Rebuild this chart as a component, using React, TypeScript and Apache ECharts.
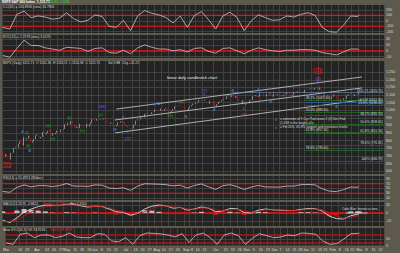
import React, { useEffect, useRef } from 'react';
import * as echarts from 'echarts';

const FONT = "'Liberation Sans', Arial, sans-serif";

// ---------- calendar ----------
const holidays = ['2009-04-10', '2009-05-25', '2009-07-03', '2009-09-07', '2009-11-26', '2009-12-25', '2010-01-01', '2010-01-18', '2010-02-15'];
function buildTradingDays(from: string, to: string): string[] {
  const out: string[] = [];
  const d = new Date(from + 'T00:00:00Z');
  const end = new Date(to + 'T00:00:00Z').getTime();
  while (d.getTime() <= end) {
    const wd = d.getUTCDay();
    const s = d.toISOString().slice(0, 10);
    if (wd !== 0 && wd !== 6 && !holidays.includes(s)) out.push(s);
    d.setUTCDate(d.getUTCDate() + 1);
  }
  return out;
}
const dates = buildTradingDays('2009-03-02', '2010-03-24');

// ---------- price data ----------
const firstOpen = 729.57;
const closes = [
  700.82, 696.33, 712.87, 682.55, 683.38, 676.53, 719.60, 721.36, 750.74, 756.55, 753.89, 778.12, 794.35, 784.04, 768.54, 822.92, 806.12, 813.88, 832.86, 815.94, 787.53, 797.87,
  811.08, 834.38, 842.50, 835.48, 815.55, 825.16, 856.56, 858.73, 841.50, 852.06, 865.30, 869.60, 832.39, 850.08, 843.55, 851.92, 866.23, 857.51, 855.16, 873.64, 872.81,
  877.52, 907.24, 903.80, 919.53, 907.39, 929.23, 909.24, 908.35, 883.92, 893.07, 882.88, 909.71, 908.13, 903.47, 888.33, 887.00, 910.33, 893.06, 906.83, 919.14,
  942.87, 944.74, 931.76, 942.46, 940.09, 939.14, 942.43, 939.15, 944.89, 946.21, 923.72, 911.97, 910.71, 918.37, 921.23, 893.04, 895.10, 900.94, 920.26, 918.90, 927.23, 919.32,
  923.33, 896.42, 898.72, 881.03, 879.56, 882.68, 879.13, 901.05, 905.84, 932.68, 940.74, 940.38, 951.13, 954.58, 954.07, 976.29, 979.26, 982.18, 979.62, 975.15, 986.75, 987.48,
  1002.63, 1005.65, 1002.72, 997.08, 1010.48, 1007.10, 994.35, 1005.81, 1012.73, 1004.09, 979.73, 989.67, 996.46, 1007.37, 1026.13, 1025.57, 1028.00, 1028.12, 1030.98, 1028.93, 1020.62,
  998.04, 994.75, 1003.24, 1016.40, 1025.39, 1033.37, 1044.14, 1042.73, 1049.34, 1052.63, 1068.76, 1065.49, 1068.30, 1064.66, 1071.66, 1060.87, 1050.78, 1044.38, 1062.98, 1060.61, 1057.08,
  1029.85, 1025.21, 1040.46, 1054.72, 1057.58, 1065.48, 1071.49, 1076.19, 1073.19, 1092.02, 1096.56, 1087.68, 1097.91, 1091.06, 1081.40, 1092.91, 1079.60, 1066.95, 1063.41, 1042.63, 1066.11, 1036.19,
  1042.88, 1045.41, 1046.50, 1066.63, 1069.30, 1093.08, 1093.01, 1098.51, 1087.24, 1093.48, 1109.30, 1110.32, 1109.80, 1094.90, 1091.38, 1106.24, 1105.65, 1110.63, 1091.49, 1095.63,
  1108.86, 1109.24, 1099.92, 1105.98, 1103.25, 1091.94, 1095.95, 1102.35, 1106.41, 1114.11, 1107.93, 1109.18, 1096.08, 1102.47, 1114.05, 1118.02, 1120.59, 1126.48, 1127.78, 1126.20, 1126.42, 1115.10,
  1132.99, 1136.52, 1137.14, 1141.69, 1144.98, 1146.98, 1136.22, 1145.68, 1148.46, 1136.03, 1150.23, 1138.04, 1116.48, 1091.76, 1096.78, 1092.17, 1097.50, 1084.53, 1073.87,
  1089.19, 1103.32, 1097.28, 1063.11, 1066.19, 1056.74, 1070.52, 1068.13, 1078.47, 1075.51, 1094.87, 1099.51, 1106.75, 1109.17, 1108.01, 1094.60, 1105.24, 1102.94, 1104.49,
  1115.71,
];

// ---------- x tick labels ----------
const xTickLabels: Record<string, string> = {
  '2009-03-02': 'Mar', '2009-03-16': '16', '2009-03-23': '23',
  '2009-04-01': 'Apr', '2009-04-13': '13', '2009-04-20': '20', '2009-04-27': '27',
  '2009-05-01': 'May', '2009-05-11': '11', '2009-05-18': '18', '2009-05-26': '26',
  '2009-06-01': 'Jun', '2009-06-08': '8', '2009-06-15': '15', '2009-06-22': '22',
  '2009-07-01': 'Jul', '2009-07-13': '13', '2009-07-20': '20', '2009-07-27': '27',
  '2009-08-03': 'Aug', '2009-08-10': '10', '2009-08-17': '17', '2009-08-24': '24',
  '2009-09-01': 'Sep', '2009-09-08': '8', '2009-09-14': '14', '2009-09-21': '21',
  '2009-10-01': 'Oct', '2009-10-12': '12', '2009-10-19': '19', '2009-10-26': '26',
  '2009-11-02': 'Nov', '2009-11-09': '9', '2009-11-16': '16', '2009-11-23': '23',
  '2009-12-01': 'Dec', '2009-12-07': '7', '2009-12-14': '14', '2009-12-21': '21', '2009-12-28': '28',
  '2010-01-04': 'Jan', '2010-01-11': '11', '2010-01-19': '19', '2010-01-25': '25',
  '2010-02-01': 'Feb', '2010-02-08': '8', '2010-02-16': '16', '2010-02-22': '22',
  '2010-03-01': 'Mar', '2010-03-08': '8', '2010-03-15': '15', '2010-03-22': '22',
};

// ---------- indicators (weekly readings) ----------
const indicatorDates = [
  '2009-03-02', '2009-03-09', '2009-03-16', '2009-03-23', '2009-03-30', '2009-04-06', '2009-04-14', '2009-04-21', '2009-04-28',
  '2009-05-05', '2009-05-12', '2009-05-19', '2009-05-27', '2009-06-03', '2009-06-10', '2009-06-17', '2009-06-24',
  '2009-07-01', '2009-07-09', '2009-07-16', '2009-07-23', '2009-07-30', '2009-08-06', '2009-08-13', '2009-08-20', '2009-08-27',
  '2009-09-03', '2009-09-11', '2009-09-18', '2009-09-25', '2009-10-02', '2009-10-09', '2009-10-16', '2009-10-23', '2009-10-30',
  '2009-11-06', '2009-11-13', '2009-11-20', '2009-11-30', '2009-12-07', '2009-12-14', '2009-12-21', '2009-12-29',
  '2010-01-06', '2010-01-13', '2010-01-21', '2010-01-28', '2010-02-04', '2010-02-11', '2010-02-19', '2010-02-26', '2010-03-01',
];
const cci = [-120, -150, 120, 180, 60, 90, 70, 30, 50, 150, 40, -20, 10, 110, 80, -100, -120, 10, -180, 90, 190, 140, 110, 60, -40, 90, -120, 100, 170, 20, -150, 90, 160, 60, -180, 0, 110, 60, 10, 20, 90, 70, 120, 150, 100, -120, -200, -210, -80, 90, 80, 110];
const roc = [-8, -11, 4, 18, 9, 9, 5, 3, 1, 6, 5, 4, -1, 4, 5, -3, -4, 1, -5, 5, 10, 6, 3, 3, 0, 2, -2, 4, 5, -1, -4, 4, 5, 0, -5, 1, 5, 2, 0, -1, 1, 1, 2, 2, 1, -3, -5, -7, -2, 3, 3, 2];
const rsi = [38, 34, 55, 65, 57, 62, 62, 58, 62, 71, 60, 60, 59, 65, 64, 52, 50, 53, 42, 60, 70, 69, 68, 66, 61, 64, 52, 63, 69, 57, 46, 62, 66, 58, 46, 56, 63, 57, 56, 56, 60, 60, 66, 67, 65, 49, 39, 37, 45, 56, 55, 60];
const macd = [-18, -24, -12, 2, 10, 16, 20, 19, 19, 22, 22, 18, 15, 17, 16, 10, 3, 2, -6, -1, 10, 17, 20, 18, 12, 14, 7, 10, 15, 12, 3, 5, 11, 11, 1, 0, 7, 10, 8, 7, 6, 6, 9, 11, 11, 5, -8, -14, -15, -7, -3, -2];
const macdSignal = [-22, -21, -18, -8, 2, 10, 16, 18, 19, 20, 21, 20, 17, 16, 16, 13, 7, 3, -1, -2, 3, 11, 17, 18, 15, 14, 10, 9, 12, 13, 8, 5, 8, 10, 6, 2, 4, 8, 8, 8, 7, 6, 7, 9, 10, 8, 0, -8, -13, -11, -7, -6];
const macdHist = [4, -3, 6, 10, 8, 6, 4, 1, 0, 2, 1, -2, -2, 1, 0, -3, -4, -1, -5, 1, 7, 6, 3, 0, -3, 0, -3, 1, 3, -1, -5, 0, 3, 1, -5, -2, 3, 2, 0, -1, -1, 0, 2, 2, 1, -3, -8, -6, -2, 4, 4, 4];
const stochK = [20, 10, 85, 95, 60, 80, 80, 60, 70, 95, 65, 60, 60, 90, 85, 35, 30, 60, 10, 75, 95, 92, 88, 80, 65, 90, 25, 80, 95, 60, 10, 80, 95, 75, 10, 55, 90, 75, 60, 65, 80, 75, 95, 92, 85, 35, 10, 15, 50, 90, 92, 94];

// ---------- reference levels per panel ----------
const cciLevels = [100, -100];
const rocLevels = [0];
const rsiLevels = [70, 30];
const macdLevels = [0];
const stoLevels = [80, 20];

// ---------- axis tick values ----------
const cciTicks = [-200, -100, 0, 100, 200];
const rocTicks = [-10, 0, 10, 20];
const priceTicks = [600, 650, 700, 750, 800, 850, 900, 950, 1000, 1050, 1100, 1150, 1200, 1250];
const rsiTicks = [10, 30, 50, 70, 90];
const macdTicks = [-20, 0, 20];
const stoTicks = [0, 50];

// ---------- annotations (date, price, text) ----------
const redWaves: [string, number, string][] = [['2009-03-05', 640, '[1]'], ['2010-01-15', 1259, '[2]']];
const purpleWaves: [string, number, string][] = [
  ['2009-06-10', 1028, '(W)'], ['2009-07-07', 812, '(X)'], ['2009-09-22', 1127, '(Y)'], ['2009-10-30', 975, '(X)'], ['2010-01-15', 1206, '(Z)'],
];
const blueWaves: [string, number, string][] = [
  ['2009-03-20', 857, 'A'], ['2009-03-27', 732, 'B'], ['2009-06-23', 870, 'W'], ['2009-07-01', 949, 'X'], ['2009-07-07', 855, 'Y'],
  ['2009-08-06', 1041, 'A'], ['2009-09-02', 956, 'B'], ['2009-09-22', 1101, 'C'], ['2009-10-01', 1002, 'A'], ['2009-10-20', 1127, 'B'],
  ['2009-10-30', 1009, 'C'], ['2009-11-13', 1133, 'A'], ['2009-11-27', 1054, 'B'], ['2010-01-15', 1186, 'C'], ['2010-02-04', 1022, 'A'],
];
const greenWaves: [string, number, string][] = [
  ['2009-03-25', 851, '(i)'], ['2009-03-26', 765, '(ii)'], ['2009-04-16', 897, '(iii)'], ['2009-04-21', 811, '(iv)'], ['2009-05-07', 949, '(v)'],
  ['2009-05-20', 864, '(iv)'], ['2009-06-09', 969, '(v)'], ['2009-08-18', 962, '(iv)'], ['2009-08-28', 1054, '(v)'],
];
const trendLines: [string, number, string, number][] = [
  ['2009-06-24', 1008, '2010-03-03', 1219],
  ['2009-06-23', 936, '2010-03-03', 1147],
  ['2009-06-23', 851, '2010-03-03', 1068],
];
const closeLevelStart = '2009-10-20';
const closeLevel: [number, string] = [1115.71, '1115.71 (1115.71)'];
const fibStart = '2010-01-04';
const fibEnd = '2010-03-24';
const blueLevels: [number, string][] = [[1052.3, '1.618 (1052.30)']];
const greenRightLevels: [number, string][] = [
  [1036.3, '23.6% (1036.30)'], [965.7, '38.2% (965.70)'], [908.62, '50.0% (908.62)'], [851.54, '61.8% (851.54)'], [770.31, '78.6% (770.31)'], [666.79, '100% (666.79)'],
];
const greenMidLevels: [number, string][] = [[1067.4, '38.2% (1067.40)'], [989.5, '50.0% (989.50)'], [857.2, '61.8% (857.20)'], [739.0, '78.6% (739.00)']];

// ---------- styling ----------
const BG = '#5d594d';
const PANEL = '#232323';
const GRID = '#484848';
const TXT = '#dcdcdc';
const RED = '#f01010';
const LINE = '#c8c8c8';

function buildOption() {
  const panels = [
    { top: 5, height: 28, min: -224, max: 292, ticks: cciTicks },
    { top: 35, height: 23, min: -12.2, max: 26.8, ticks: rocTicks },
    { top: 61, height: 113, min: 581, max: 1324, ticks: priceTicks },
    { top: 176, height: 24, min: 1.6, max: 102.6, ticks: rsiTicks },
    { top: 202, height: 24, min: -32.5, max: 27.5, ticks: macdTicks },
    { top: 228, height: 18, min: -2.5, max: 132.5, ticks: stoTicks },
  ];
  const grid = panels.map((p) => ({ left: 2, right: 16, top: p.top, height: p.height, show: true, backgroundColor: PANEL, borderWidth: 0 }));
  const isTick = (_i: number, v: string) => v in xTickLabels;
  const xAxis = panels.map((_p, i) => ({
    type: 'category', gridIndex: i, data: dates, boundaryGap: true,
    axisLine: { show: false }, axisTick: { show: false },
    axisLabel: i === panels.length - 1
      ? { show: true, interval: isTick, formatter: (v: string) => xTickLabels[v] || '', color: TXT, fontSize: 3.6, fontFamily: FONT, margin: 1.5 }
      : { show: false },
    splitLine: { show: true, interval: isTick, lineStyle: { color: GRID, width: 0.8 } },
  }));
  const yAxis = panels.map((p, i) => ({
    type: 'value', gridIndex: i, position: 'right', min: p.min, max: p.max,
    axisLine: { show: false },
    axisTick: { show: false, customValues: p.ticks },
    axisLabel: {
      customValues: p.ticks, color: TXT, fontSize: 3.6, fontFamily: FONT, margin: 2,
      formatter: (v: number) => (i === 2 ? v.toLocaleString('en-US') : String(v)),
    },
    splitLine: { show: true, lineStyle: { color: GRID, width: 0.8 } },
  }));

  const series_line = (idx: number, vals: number[], color: string, width = 0.8) => ({
    type: 'line', xAxisIndex: idx, yAxisIndex: idx, symbol: 'none', silent: true, z: 3,
    data: indicatorDates.map((d, k) => [d, vals[k]]),
    lineStyle: { color, width },
  });
  const refSeries = (idx: number, levels: number[], width = 1.1) =>
    levels.map((v) => ({
      type: 'line', xAxisIndex: idx, yAxisIndex: idx, symbol: 'none', silent: true, z: 1,
      data: [[dates[0], v], [dates[dates.length - 1], v]],
      lineStyle: { color: RED, width },
    }));

  const candles = closes.map((c, i) => {
    const o = i === 0 ? firstOpen : closes[i - 1];
    return [o, c, Math.min(o, c), Math.max(o, c)];
  });

  const lvlLine = (start: string, end: string, v: number, text: string, color: string, pos: string, width = 0.7) => {
    const ls = { color, width, type: 'solid' };
    const lb = { show: true, position: pos, formatter: text, color: TXT, fontSize: 3.3, fontFamily: FONT, distance: 0.5 };
    return [{ coord: [start, v], lineStyle: ls, label: lb }, { coord: [end, v], lineStyle: ls, label: lb }];
  };
  const markData: any[] = [
    ...trendLines.map(([d1, p1, d2, p2]) => {
      const ls = { color: '#d0d0d0', width: 0.8, type: 'solid' };
      return [{ coord: [d1, p1], lineStyle: ls, label: { show: false } }, { coord: [d2, p2], lineStyle: ls, label: { show: false } }];
    }),
    lvlLine(closeLevelStart, fibEnd, closeLevel[0], closeLevel[1], '#6f93c8', 'insideEndTop', 0.6),
    ...blueLevels.map(([v, t]) => lvlLine(fibStart, fibEnd, v, t, '#2a5fb8', 'insideEndTop')),
    ...greenRightLevels.map(([v, t]) => lvlLine(fibStart, fibEnd, v, t, '#1f7a1f', 'insideEndTop')),
    ...greenMidLevels.map(([v, t]) => lvlLine(fibStart, fibEnd, v, t, '#1f7a1f', 'insideStartTop')),
  ];

  const waveSeries = (data: [string, number, string][], color: string, size: number, boxed = false) => ({
    type: 'scatter', xAxisIndex: 2, yAxisIndex: 2, symbolSize: 0, silent: true, z: 5,
    data,
    label: {
      show: true, position: 'inside', formatter: (p: any) => p.data[2], color, fontSize: size, fontFamily: FONT, fontWeight: 'bold',
      ...(boxed ? { borderColor: color, borderWidth: 0.8, padding: [0, 1, 0, 1] } : {}),
    },
  });

  const T = (x: number, y: number, text: string, fill = TXT, size = 3.6, weight = 'normal') => ({
    type: 'text', x, y, silent: true, z: 100,
    style: { text, fill, fontSize: size, fontFamily: FONT, fontWeight: weight, verticalAlign: 'top' },
  });

  return {
    animation: false,
    backgroundColor: BG,
    grid, xAxis, yAxis,
    series: [
      ...refSeries(0, cciLevels),
      series_line(0, cci, LINE),
      ...refSeries(1, rocLevels),
      series_line(1, roc, LINE),
      {
        type: 'candlestick', xAxisIndex: 2, yAxisIndex: 2, data: candles, barWidth: 1, silent: true,
        itemStyle: { color: '#e4e4e4', color0: '#e51616', borderColor: '#e4e4e4', borderColor0: '#e51616', borderWidth: 0.5 },
        markLine: { silent: true, symbol: ['none', 'none'], data: markData },
      },
      waveSeries(greenWaves, '#1fb81f', 3.4),
      waveSeries(blueWaves, '#3f8fe8', 3.6),
      waveSeries(purpleWaves, '#8a3fe0', 4.4),
      waveSeries(redWaves, '#e01818', 4.6, true),
      ...refSeries(3, rsiLevels),
      series_line(3, rsi, LINE),
      ...refSeries(4, macdLevels, 1.5),
      {
        type: 'bar', xAxisIndex: 4, yAxisIndex: 4, barWidth: 5, silent: true, z: 2,
        data: indicatorDates.map((d, k) => [d, macdHist[k]]),
        itemStyle: { color: (p: any) => (p.data[1] >= 0 ? '#bdbdbd' : '#d01414') },
      },
      series_line(4, macd, '#f0f0f0'),
      series_line(4, macdSignal, '#d01414'),
      ...refSeries(5, stoLevels),
      series_line(5, stochK, LINE),
    ],
    graphic: [
      T(2, 0.5, '$SPX S&P 500 Index  1,115.71', '#ffffff', 3.4, 'bold'),
      T(50, 0.5, '11.22  1.02%', '#39c239', 3.4, 'bold'),
      T(3, 5.5, 'CCI(20) = 105.8906 (sma) 16.7906', TXT, 3.3),
      T(3, 35.5, 'ROC(12) = 1.7578 (sma) 3.1370', TXT, 3.3),
      T(3, 61.5, '$SPX (Daily) 1115.71  O 1105.36  H 1116.11  L 1105.36  C 1115.71', TXT, 3.3),
      T(108, 61.5, 'Vol 3.8B  Chg +11.22', TXT, 3.3),
      T(167, 75, 'linear daily candlestick chart', '#f0f0f0', 4),
      T(275, 117.5, '■', '#2a5fb8', 3.6),
      T(280, 117.5, '= extension of 1 Cyc Pool wave 2 (Z) Dec Fed', TXT, 3.2),
      T(280, 121.5, '(1.618 is the target) of x', TXT, 3.2),
      T(275, 125.5, '■', '#1f7a1f', 3.6),
      T(280, 125.5, '= Fib 50%, 61.8% support and resistance levels', TXT, 3.2),
      T(3, 176.5, 'RSI(14) = 55.4953 (Wilder)', TXT, 3.3),
      T(3, 202, 'MACD(12,26,9) -4.8612,', TXT, 3.3),
      T(44, 202, 'Signal -6.1726,', '#e03030', 3.3),
      T(70, 202, 'Hist 1.3114', TXT, 3.3),
      T(342, 207.5, 'Code Blue: bounce at zero', TXT, 3),
      T(346, 211, 'watch crossover', TXT, 3),
      T(3, 228.5, 'Slow STO(14,3) %K 93.9136', TXT, 3.3),
      T(50, 228.5, '%D(3) 78.7858', '#e03030', 3.3),
    ],
  };
}

export default function App() {
  const ref = useRef<HTMLDivElement>(null);
  useEffect(() => {
    const chart = echarts.init(ref.current!, null, { renderer: 'svg' });
    chart.setOption(buildOption() as any);
    return () => chart.dispose();
  }, []);
  return <div ref={ref} style={{ position: 'absolute', left: 0, top: 0, width: 400, height: 253 }} />;
}
